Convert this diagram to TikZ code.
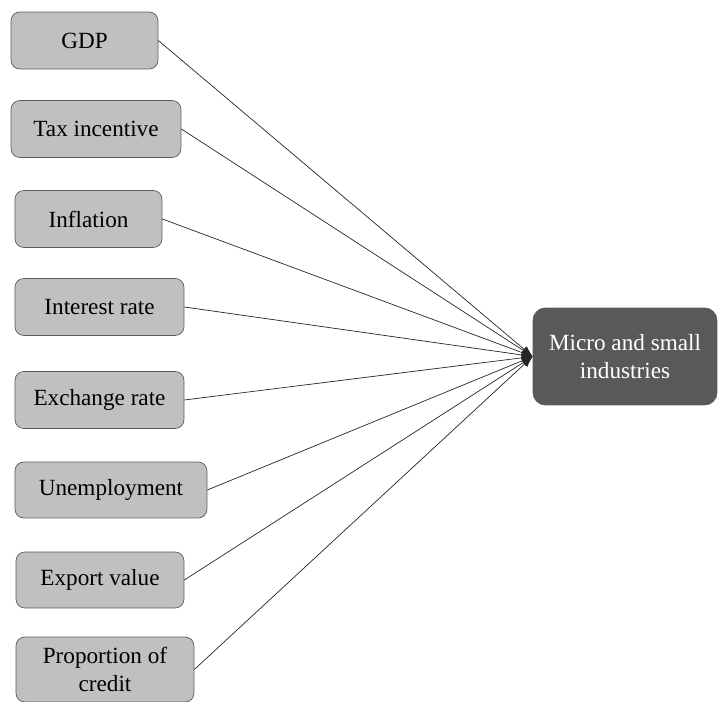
\documentclass[tikz,border=0pt]{standalone}
\usepackage{fontspec}
\setmainfont{Liberation Serif}
\usepackage{xcolor}
\usetikzlibrary{arrows.meta, positioning}
\definecolor{boxgray}{HTML}{C0C0C0}
\definecolor{edgegray}{HTML}{5A5A5E}
\definecolor{darkbox}{HTML}{595959}

\begin{document}
\begin{tikzpicture}[
  x=0.02cm, y=-0.02cm,
  font=\fontsize{13.2}{16}\selectfont,
  every node/.style={align=center},
  factor/.style={draw=edgegray, rounded corners=5pt, fill=boxgray,
                 inner sep=2pt, minimum height=1.14cm},
  target/.style={draw=edgegray, rounded corners=7pt, fill=darkbox,
                 text=white, minimum width=3.68cm, minimum height=1.94cm},
  arr/.style={-{Latex[length=2.2mm,width=1.6mm]}, draw=black!85}
]
\useasboundingbox (0,0) rectangle (718,702);
\node[factor, minimum width=2.94cm] (gdp)   at (84.5,40.5) {GDP};
\node[factor, minimum width=3.40cm] (tax)   at (96,129)    {Tax incentive};
\node[factor, minimum width=2.94cm] (infl)  at (88.5,219)  {Inflation};
\node[factor, minimum width=3.38cm] (rate)  at (99.5,307)  {Interest rate};
\node[factor, minimum width=3.38cm] (exch)  at (99.5,400)  {Exchange rate};
\node[factor, minimum width=3.84cm, minimum height=1.12cm] (unemp) at (111,490) {Unemployment};
\node[factor, minimum width=3.36cm, minimum height=1.12cm] (export) at (100,580) {Export value};
\node[factor, minimum width=3.56cm, minimum height=1.30cm] (credit) at (105,669.5) {Proportion of\\credit};
\node[target] (msi) at (625,356.5) {Micro and small\\industries};

\foreach \src in {gdp, tax, infl, rate, exch, unemp, export, credit}
  \draw[arr] (\src.east) -- (msi.west);
\end{tikzpicture}
\end{document}
